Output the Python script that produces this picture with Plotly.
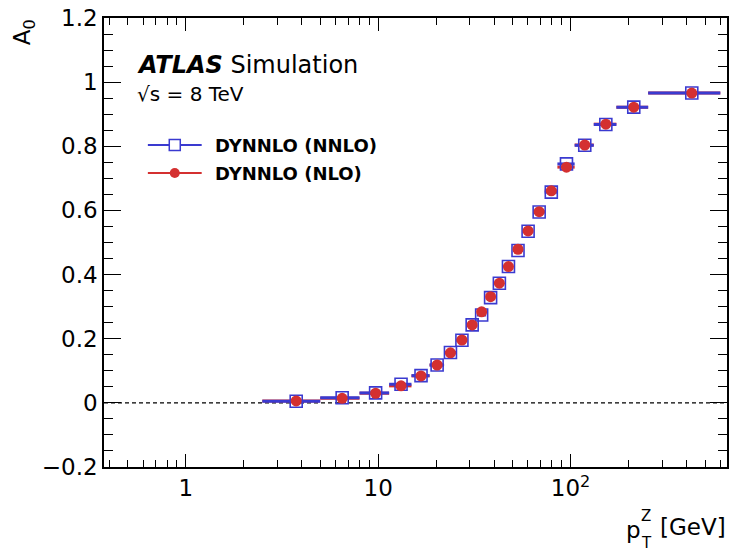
import plotly.graph_objects as go
import math

# ---- data ----
bin_lo = [2.5, 5.0, 8.0, 11.4, 14.9, 18.5, 22.0, 25.5, 29.0, 32.6, 36.4, 40.4,
          44.9, 50.2, 56.4, 63.9, 73.4, 85.4, 105.0, 132.0, 173.0, 253.0]
bin_hi = [5.0, 8.0, 11.4, 14.9, 18.5, 22.0, 25.5, 29.0, 32.6, 36.4, 40.4, 44.9,
          50.2, 56.4, 63.9, 73.4, 85.4, 105.0, 132.0, 173.0, 253.0, 600.0]
a0_nnlo = [0.005, 0.016, 0.031, 0.058, 0.085, 0.118, 0.157, 0.195, 0.243, 0.274,
           0.328, 0.373, 0.425, 0.475, 0.535, 0.595, 0.657, 0.745, 0.803, 0.868,
           0.922, 0.966]
a0_nlo = [0.006, 0.014, 0.030, 0.053, 0.084, 0.118, 0.156, 0.196, 0.243, 0.284,
          0.331, 0.373, 0.425, 0.479, 0.536, 0.596, 0.661, 0.735, 0.804, 0.869,
          0.922, 0.966]
y_tickvals = [-0.2, 0, 0.2, 0.4, 0.6, 0.8, 1.0, 1.2]
y_ticktext = ["\u22120.2", "0", "0.2", "0.4", "0.6", "0.8", "1", "1.2"]
x_tickvals = [1, 10, 100]
x_ticktext = ["1", "10", "10<sup>2</sup>"]
series_names = ["DYNNLO (NNLO)", "DYNNLO (NLO)"]

BLUE = "#3a3ad0"
RED = "#d43030"
FONT = "DejaVu Sans"

x_c = [(lo + hi) / 2 for lo, hi in zip(bin_lo, bin_hi)]
err_plus = [hi - c for hi, c in zip(bin_hi, x_c)]
err_minus = [c - lo for lo, c in zip(bin_lo, x_c)]

fig = go.Figure()

# red horizontal bars (underneath)
fig.add_trace(go.Scatter(
    x=x_c, y=a0_nlo, mode="markers", marker=dict(size=1, color="rgba(0,0,0,0)"),
    error_x=dict(type="data", symmetric=False, array=err_plus, arrayminus=err_minus,
                 color=RED, thickness=3, width=0),
    showlegend=False, hoverinfo="skip"))
# blue NNLO: bars + open squares
fig.add_trace(go.Scatter(
    x=x_c, y=a0_nnlo, mode="markers", name=series_names[0],
    marker=dict(symbol="square-open", size=12, color=BLUE, line=dict(width=1.6, color=BLUE)),
    error_x=dict(type="data", symmetric=False, array=err_plus, arrayminus=err_minus,
                 color=BLUE, thickness=3, width=0),
    showlegend=False))
# red NLO circles on top
fig.add_trace(go.Scatter(
    x=x_c, y=a0_nlo, mode="markers", name=series_names[1],
    marker=dict(symbol="circle", size=11, color=RED, line=dict(width=0)),
    showlegend=False))

x_lo_log = math.log10(0.376)
x_hi_log = math.log10(650)

fig.update_layout(
    width=732, height=551,
    margin=dict(l=104, r=3, t=18, b=84),
    paper_bgcolor="white", plot_bgcolor="white",
    font=dict(family=FONT, size=23, color="black"),
    xaxis=dict(type="log", range=[x_lo_log, x_hi_log],
               tickvals=x_tickvals, ticktext=x_ticktext,
               ticks="inside", ticklen=13, tickwidth=1.2, tickcolor="black",
               minor=dict(ticks="inside", ticklen=7, tickwidth=1.2, tickcolor="black",
                          dtick="D1", showgrid=False),
               showline=True, linecolor="black", linewidth=1.5, mirror="allticks",
               showgrid=False, zeroline=False,
               tickfont=dict(family=FONT, size=23)),
    yaxis=dict(range=[-0.2, 1.2], tickvals=y_tickvals, ticktext=y_ticktext,
               ticks="inside", ticklen=17, tickwidth=1.2, tickcolor="black",
               minor=dict(ticks="inside", ticklen=9, tickwidth=1.2, tickcolor="black",
                          dtick=0.05, showgrid=False),
               showline=True, linecolor="black", linewidth=1.5, mirror="allticks",
               showgrid=False, zeroline=False,
               tickfont=dict(family=FONT, size=23)),
)

# dashed zero line
fig.add_shape(type="line", xref="paper", yref="y", x0=0, x1=1, y0=0, y1=0,
              line=dict(color="black", width=1.2, dash="4px,3px"), layer="below")

def px(xp):
    return (xp - 104) / 625.0

def py(yp):
    return (467 - yp) / 449.0

# ATLAS label
fig.add_annotation(xref="paper", yref="paper", x=px(135), y=py(65), xanchor="left",
                   yanchor="middle", showarrow=False,
                   text="<b><i>ATLAS</i></b> Simulation", font=dict(family=FONT, size=24))
fig.add_annotation(xref="paper", yref="paper", x=px(135), y=py(94), xanchor="left",
                   yanchor="middle", showarrow=False,
                   text="\u221as = 8 TeV", font=dict(family=FONT, size=20))

# manual legend
leg_rows = [(145, BLUE, "square", series_names[0]), (173, RED, "circle", series_names[1])]
for ypix, col, sym, label in leg_rows:
    fig.add_shape(type="line", xref="paper", yref="paper", x0=px(148), x1=px(202),
                  y0=py(ypix), y1=py(ypix), line=dict(color=col, width=2))
    if sym == "square":
        fig.add_shape(type="rect", xref="paper", yref="paper", xsizemode="pixel",
                      ysizemode="pixel", xanchor=px(175), yanchor=py(ypix),
                      x0=-5.5, x1=5.5, y0=-5.5, y1=5.5,
                      line=dict(color=col, width=1.5), fillcolor="white")
    else:
        fig.add_shape(type="circle", xref="paper", yref="paper", xsizemode="pixel",
                      ysizemode="pixel", xanchor=px(175), yanchor=py(ypix),
                      x0=-5, x1=5, y0=-5, y1=5,
                      line=dict(color=col, width=0), fillcolor=col)
    fig.add_annotation(xref="paper", yref="paper", x=px(213), y=py(ypix), xanchor="left",
                       yanchor="middle", showarrow=False, text="<b>%s</b>" % label,
                       font=dict(family=FONT, size=18))

# y-axis title A_0
fig.add_annotation(xref="paper", yref="paper", x=px(24), y=py(32), xanchor="center",
                   yanchor="middle", showarrow=False, textangle=-90,
                   text="A<sub>0</sub>", font=dict(family=FONT, size=23))

# x-axis title p_T^Z [GeV]
fig.add_annotation(xref="paper", yref="paper", x=px(626), y=py(530), xanchor="left",
                   yanchor="middle", showarrow=False, text="p", font=dict(family=FONT, size=23))
fig.add_annotation(xref="paper", yref="paper", x=px(641), y=py(516), xanchor="left",
                   yanchor="middle", showarrow=False, text="Z", font=dict(family=FONT, size=15))
fig.add_annotation(xref="paper", yref="paper", x=px(641), y=py(543), xanchor="left",
                   yanchor="middle", showarrow=False, text="T", font=dict(family=FONT, size=15))
fig.add_annotation(xref="paper", yref="paper", x=px(730), y=py(527), xanchor="right",
                   yanchor="middle", showarrow=False, text="[GeV]",
                   font=dict(family=FONT, size=23))

fig.write_html("out.html", config={"displayModeBar": False},
               post_script="document.body.style.margin='0px';")
